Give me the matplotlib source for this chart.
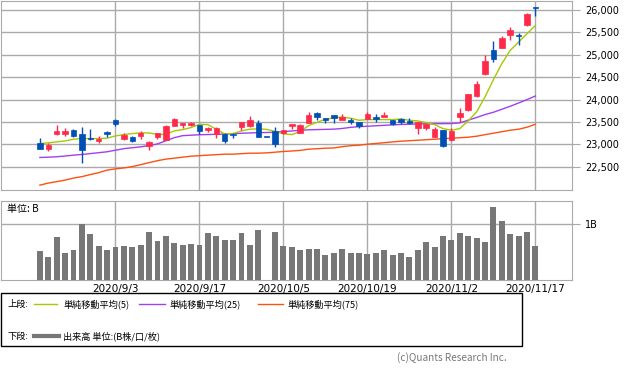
import numpy as np
import matplotlib
matplotlib.use("Agg")
import matplotlib.pyplot as plt
from matplotlib.lines import Line2D
from matplotlib.patches import Rectangle

plt.rcParams['font.family'] = ['DejaVu Sans', 'Noto Sans CJK JP']
JP = ['Noto Sans CJK JP', 'DejaVu Sans']

dates = ["2020/8/21", "2020/8/24", "2020/8/25", "2020/8/26", "2020/8/27", "2020/8/28", "2020/8/31",
         "2020/9/1", "2020/9/2", "2020/9/3", "2020/9/4", "2020/9/7", "2020/9/8", "2020/9/9",
         "2020/9/10", "2020/9/11", "2020/9/14", "2020/9/15", "2020/9/16", "2020/9/17",
         "2020/9/18", "2020/9/23", "2020/9/24", "2020/9/25", "2020/9/28", "2020/9/29",
         "2020/9/30", "2020/10/1", "2020/10/2", "2020/10/5", "2020/10/6", "2020/10/7",
         "2020/10/8", "2020/10/9", "2020/10/12", "2020/10/13", "2020/10/14", "2020/10/15",
         "2020/10/16", "2020/10/19", "2020/10/20", "2020/10/21", "2020/10/22", "2020/10/23",
         "2020/10/26", "2020/10/27", "2020/10/28", "2020/10/29", "2020/10/30", "2020/11/2",
         "2020/11/4", "2020/11/5", "2020/11/6", "2020/11/9", "2020/11/10", "2020/11/11",
         "2020/11/12", "2020/11/13", "2020/11/16", "2020/11/17"]

opens = [23034, 22900, 23226, 23241, 23315, 23241, 23152, 23078, 23278, 23538,
         23115, 23160, 23189, 22974, 23175, 23108, 23412, 23434, 23427, 23434,
         23315, 23234, 23234, 23234, 23382, 23412, 23486, 23175, 23308, 23249,
         23412, 23256, 23486, 23701, 23597, 23664, 23538, 23553, 23493, 23560,
         23605, 23612, 23538, 23560, 23530, 23367, 23367, 23167, 23330, 23093,
         23612, 23761, 24072, 24569, 25095, 25147, 25436, 25436, 25651, 26051]
highs = [23145, 23034, 23434, 23360, 23338, 23382, 23338, 23197, 23308, 23575,
         23264, 23197, 23301, 23078, 23249, 23434, 23590, 23486, 23501, 23434,
         23390, 23390, 23264, 23264, 23508, 23627, 23538, 23175, 23382, 23315,
         23449, 23456, 23716, 23731, 23597, 23664, 23671, 23582, 23493, 23716,
         23671, 23716, 23538, 23597, 23582, 23493, 23464, 23382, 23331, 23368,
         23812, 24116, 24405, 24984, 25295, 25406, 25614, 25473, 25940, 26073]
lows = [22900, 22856, 23212, 23197, 23167, 22589, 23100, 23034, 23167, 23412,
        23100, 23056, 23123, 22871, 23123, 23093, 23412, 23367, 23404, 23234,
        23286, 23145, 23034, 23152, 23315, 23390, 23167, 23175, 22945, 23241,
        23345, 23256, 23486, 23538, 23486, 23486, 23538, 23456, 23367, 23560,
        23501, 23656, 23434, 23456, 23456, 23234, 23330, 23167, 22945, 23078,
        23501, 23746, 24057, 24554, 24828, 25147, 25332, 25213, 25636, 25866]
closes = [22900, 22997, 23293, 23293, 23182, 22871, 23115, 23123, 23234, 23449,
          23212, 23078, 23264, 23049, 23249, 23404, 23560, 23479, 23471, 23301,
          23360, 23360, 23078, 23204, 23508, 23538, 23170, 23175, 23019, 23315,
          23449, 23427, 23656, 23612, 23538, 23582, 23612, 23493, 23404, 23671,
          23560, 23656, 23456, 23501, 23486, 23493, 23464, 23345, 22975, 23293,
          23701, 24116, 24339, 24850, 24902, 25362, 25540, 25414, 25918, 26036]

ma5 = [23019, 23034, 23056, 23078, 23115, 23130, 23130, 23130, 23138, 23189,
       23219, 23241, 23256, 23256, 23219, 23227, 23301, 23330, 23375, 23449,
       23440, 23340, 23235, 23240, 23300, 23340, 23345, 23335, 23290, 23234,
       23219, 23286, 23419, 23493, 23560, 23590, 23612, 23582, 23538, 23553,
       23553, 23553, 23553, 23567, 23538, 23523, 23486, 23441, 23353, 23315,
       23353, 23523, 23723, 24057, 24442, 24798, 25095, 25280, 25466, 25651]
ma25 = [22708, 22715, 22725, 22740, 22760, 22775, 22795, 22815, 22835, 22870,
        22905, 22925, 22945, 22975, 23010, 23080, 23150, 23195, 23205, 23215,
        23220, 23225, 23232, 23240, 23248, 23256, 23262, 23265, 23270, 23285,
        23300, 23315, 23325, 23330, 23335, 23340, 23355, 23380, 23395, 23405,
        23415, 23425, 23435, 23445, 23450, 23455, 23460, 23462, 23462, 23465,
        23479, 23540, 23600, 23664, 23716, 23783, 23850, 23923, 23998, 24078]
ma75 = [22092, 22137, 22170, 22204, 22249, 22281, 22326, 22370, 22426, 22455,
        22475, 22504, 22548, 22593, 22637, 22671, 22693, 22715, 22737, 22748,
        22760, 22771, 22782, 22782, 22793, 22804, 22804, 22811, 22826, 22842,
        22853, 22866, 22893, 22904, 22915, 22920, 22949, 22971, 22982, 23004,
        23020, 23038, 23055, 23071, 23082, 23093, 23104, 23115, 23127, 23138,
        23149, 23160, 23182, 23216, 23249, 23282, 23316, 23338, 23383, 23449]

volume = [0.51, 0.41, 0.76, 0.48, 0.53, 0.99, 0.81, 0.60, 0.53, 0.58,
          0.60, 0.58, 0.62, 0.85, 0.69, 0.78, 0.65, 0.62, 0.635, 0.62,
          0.83, 0.78, 0.71, 0.72, 0.83, 0.62, 0.88, 0.0, 0.86, 0.60,
          0.58, 0.53, 0.56, 0.56, 0.44, 0.48, 0.55, 0.48, 0.48, 0.46,
          0.49, 0.53, 0.44, 0.49, 0.42, 0.53, 0.67, 0.58, 0.78, 0.71,
          0.83, 0.79, 0.74, 0.67, 1.29, 1.04, 0.81, 0.78, 0.86, 0.60]

price_ticks = [22500, 23000, 23500, 24000, 24500, 25000, 25500, 26000]
date_ticks = [9, 19, 29, 39, 49, 59]

UP = "#ff2a4a"
DOWN = "#0050b4"
GRID = "#aaaaaa"

x = np.arange(len(dates))
o = np.array(opens, dtype=float)
c = np.array(closes, dtype=float)
colors = [UP if cc > oo else DOWN for oo, cc in zip(o, c)]

fig = plt.figure(figsize=(6.34, 3.72), dpi=100)
ax1 = fig.add_axes([0.002, 0.489, 0.9007, 0.5095])
ax2 = fig.add_axes([0.002, 0.2465, 0.9007, 0.2132])

# upper panel: candles + moving averages
ax1.plot(x, ma75, color="#ff5010", lw=1, zorder=2)
ax1.plot(x, ma25, color="#a040f0", lw=1, zorder=2)
ax1.plot(x, ma5, color="#a8c800", lw=1, zorder=2)
ax1.vlines(x, lows, highs, colors=colors, lw=1, zorder=3)
body = np.maximum(np.abs(c - o), 20)
ax1.bar(x, body, bottom=np.minimum(o, c), width=0.65, color=colors,
        edgecolor=colors, lw=0.5, zorder=4)

ax1.set_xlim(-4.6, 63.4)
ax1.set_ylim(21981, 26207)
ax1.set_yticks(price_ticks)
ax1.set_yticklabels([f"{p:,}" for p in price_ticks])
ax1.set_xticks(date_ticks)
ax1.set_xticklabels([])

# lower panel: volume
ax2.bar(x, volume, width=0.7, color="#777777", zorder=3)
ax2.set_xlim(-4.6, 63.4)
ax2.set_ylim(0, 1.40)
ax2.set_yticks([1])
ax2.set_yticklabels(["1B"])
ax2.set_xticks(date_ticks)
ax2.set_xticklabels([dates[i] for i in date_ticks])

for ax in (ax1, ax2):
    ax.yaxis.tick_right()
    ax.grid(True, color=GRID, lw=1, zorder=0)
    ax.set_axisbelow(True)
    for s in ax.spines.values():
        s.set_color(GRID)
    ax.tick_params(axis="y", length=6, color=GRID, labelsize=7, pad=3)
    ax.tick_params(axis="x", length=0, labelsize=7.5, pad=3)

fig.text(7 / 634, 1 - 209 / 372, "単位: B", fontsize=7.2, family=JP, va="center")

# legend box
fig.add_artist(Rectangle((0.0016, 0.0699), 0.822, 0.1425, transform=fig.transFigure,
                         fill=False, ec="black", lw=1))
y_top = 1 - 304 / 372
y_bot = 1 - 336 / 372
fig.text(8 / 634, y_top, "上段:", fontsize=6.6, family=JP, va="center")
legend_items = [("単純移動平均(5)", "#a8c800", 34, 57, 63),
                ("単純移動平均(25)", "#a040f0", 139, 165, 169),
                ("単純移動平均(75)", "#ff5010", 258, 283, 288)]
for label, col, x0, x1, xt in legend_items:
    fig.add_artist(Line2D([x0 / 634, x1 / 634], [y_top, y_top], color=col, lw=1,
                          transform=fig.transFigure))
    fig.text(xt / 634, y_top, label, fontsize=6.6, family=JP, va="center")
fig.text(8 / 634, y_bot, "下段:", fontsize=6.6, family=JP, va="center")
fig.add_artist(Line2D([34 / 634, 59 / 634], [y_bot, y_bot], color="#777777", lw=3,
                      transform=fig.transFigure))
fig.text(63 / 634, y_bot, "出来高 単位:(B株/口/枚)", fontsize=6.6, family=JP, va="center")

fig.text(507 / 634, 1 - 358 / 372, "(c)Quants Research Inc.", fontsize=7.2,
         family=JP, color="#777777", ha="right", va="center")

fig.savefig("out.png", dpi=100)
